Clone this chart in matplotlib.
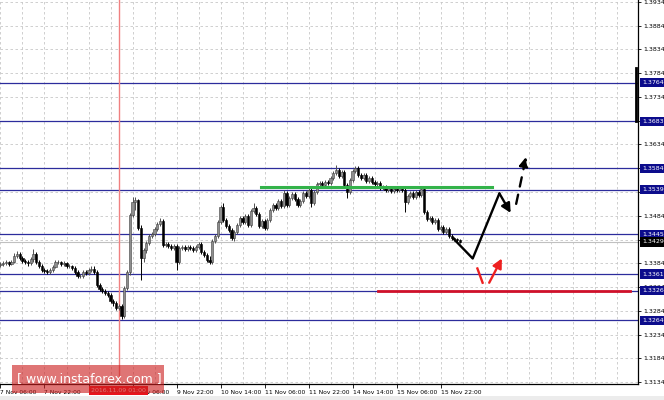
import numpy as np
import matplotlib
matplotlib.use('Agg')
import matplotlib.pyplot as plt
import matplotlib.transforms as mtransforms
from matplotlib.patches import Rectangle

# H1 candles, prices written as the last 4 digits of 1.xxxx
first_open = 3380
closes = [3382, 3384, 3386, 3382, 3386, 3399, 3403, 3395, 3389, 3386,
          3384, 3393, 3403, 3386, 3378, 3370, 3367, 3365, 3370, 3376,
          3386, 3386, 3382, 3384, 3378, 3378, 3374, 3365, 3357, 3357,
          3365, 3363, 3370, 3372, 3365, 3338, 3330, 3325, 3321, 3317,
          3304, 3300, 3290, 3294, 3273, 3332, 3365, 3486, 3513, 3517,
          3458, 3395, 3412, 3426, 3441, 3446, 3456, 3467, 3473, 3422,
          3424, 3420, 3416, 3420, 3386, 3416, 3418, 3414, 3418, 3416,
          3412, 3418, 3424, 3407, 3401, 3391, 3386, 3431, 3441, 3471,
          3502, 3475, 3462, 3454, 3437, 3450, 3465, 3479, 3471, 3483,
          3465, 3494, 3500, 3488, 3462, 3473, 3458, 3475, 3496, 3507,
          3500, 3515, 3504, 3532, 3507, 3521, 3530, 3519, 3507, 3515,
          3532, 3526, 3538, 3511, 3534, 3551, 3553, 3549, 3555, 3553,
          3563, 3574, 3580, 3568, 3576, 3549, 3534, 3559, 3578, 3585,
          3570, 3563, 3570, 3557, 3563, 3555, 3551, 3553, 3542, 3544,
          3538, 3542, 3536, 3540, 3538, 3542, 3538, 3513, 3526, 3532,
          3523, 3534, 3528, 3540, 3492, 3477, 3479, 3471, 3475, 3456,
          3460, 3450, 3456, 3441, 3437, 3435, 3433, 3429]
highs = [3386, 3389, 3391, 3389, 3391, 3405, 3410, 3407, 3399, 3393,
         3391, 3397, 3414, 3407, 3391, 3382, 3374, 3372, 3374, 3380,
         3391, 3391, 3389, 3389, 3386, 3382, 3380, 3378, 3370, 3361,
         3370, 3370, 3374, 3378, 3378, 3370, 3342, 3334, 3330, 3325,
         3321, 3309, 3304, 3298, 3298, 3336, 3370, 3490, 3523, 3523,
         3519, 3465, 3416, 3431, 3446, 3450, 3460, 3471, 3479, 3477,
         3429, 3429, 3424, 3424, 3424, 3420, 3422, 3422, 3422, 3422,
         3420, 3422, 3429, 3429, 3412, 3405, 3399, 3435, 3446, 3475,
         3507, 3511, 3479, 3467, 3458, 3454, 3469, 3483, 3483, 3488,
         3488, 3498, 3511, 3504, 3492, 3477, 3477, 3479, 3500, 3511,
         3511, 3519, 3519, 3538, 3536, 3526, 3534, 3534, 3523, 3519,
         3536, 3536, 3542, 3542, 3538, 3555, 3557, 3557, 3559, 3559,
         3568, 3578, 3591, 3585, 3580, 3580, 3553, 3563, 3582, 3589,
         3589, 3574, 3574, 3574, 3568, 3568, 3559, 3557, 3557, 3549,
         3549, 3547, 3547, 3544, 3544, 3547, 3547, 3542, 3530, 3536,
         3536, 3538, 3538, 3547, 3544, 3496, 3483, 3483, 3479, 3479,
         3465, 3465, 3460, 3460, 3446, 3439, 3437, 3435]
lows = [3376, 3378, 3380, 3378, 3380, 3384, 3395, 3391, 3384, 3382,
        3378, 3380, 3386, 3382, 3374, 3365, 3363, 3361, 3361, 3365,
        3374, 3382, 3378, 3378, 3374, 3374, 3370, 3361, 3353, 3353,
        3353, 3359, 3359, 3365, 3361, 3334, 3325, 3321, 3317, 3313,
        3300, 3294, 3286, 3286, 3267, 3269, 3328, 3359, 3481, 3496,
        3454, 3349, 3386, 3405, 3422, 3437, 3441, 3452, 3462, 3418,
        3418, 3416, 3412, 3412, 3370, 3382, 3412, 3410, 3410, 3412,
        3407, 3407, 3414, 3403, 3397, 3386, 3382, 3382, 3426, 3437,
        3467, 3471, 3458, 3450, 3433, 3431, 3446, 3460, 3467, 3467,
        3460, 3460, 3490, 3483, 3458, 3458, 3454, 3454, 3471, 3492,
        3496, 3496, 3500, 3500, 3502, 3502, 3517, 3515, 3502, 3502,
        3511, 3521, 3521, 3502, 3507, 3530, 3547, 3544, 3544, 3549,
        3549, 3559, 3570, 3563, 3563, 3544, 3521, 3530, 3555, 3574,
        3566, 3559, 3559, 3553, 3553, 3551, 3547, 3547, 3538, 3538,
        3534, 3534, 3532, 3532, 3534, 3534, 3534, 3492, 3509, 3521,
        3519, 3519, 3523, 3523, 3488, 3473, 3473, 3467, 3467, 3452,
        3452, 3446, 3446, 3437, 3433, 3431, 3429, 3426]

levels = [1.3764, 1.3683, 1.3584, 1.3539, 1.3445, 1.3361, 1.3326, 1.3264]
last_price = 1.3429
time_labels = ['7 Nov 06:00', '7 Nov 22:00', '8 Nov 14:00', '9 Nov 06:00',
               '9 Nov 22:00', '10 Nov 14:00', '11 Nov 06:00', '11 Nov 22:00',
               '14 Nov 14:00', '15 Nov 06:00', '15 Nov 22:00']
time_bars = [0, 16, 32, 48, 64, 80, 96, 112, 128, 144, 160]
marker_bar = 43
marker_label = '2016.11.09 01:00'

# drawn forecast (bar index, price)
green_x = [94.7, 178.7]
green_y = [1.3544, 1.3544]
support_x = [137.3, 228.9]
support_y = [1.3326, 1.3326]
black_x = [164.5, 171.7, 181.4, 185.5]
black_y = [1.3437, 1.3394, 1.3531, 1.3490]
dash_x = [187.5, 191.1]
dash_y = [1.3509, 1.3608]
red_dash_x = [173.4, 175.3]
red_dash_y = [1.3373, 1.3343]
red_arrow_x = [177.7, 182.3]
red_arrow_y = [1.3343, 1.3394]
bar_mark_x = [230.9, 230.9]
bar_mark_y = [1.3683, 1.3794]

c = 1 + np.array(closes) / 10000
h = 1 + np.array(highs) / 10000
l = 1 + np.array(lows) / 10000
o = np.concatenate([[1 + first_open / 10000], c[:-1]])
x = np.arange(len(c))

fig = plt.figure(figsize=(6.64, 4.0), dpi=100)
ax = fig.add_axes([0, 16 / 400, 638 / 664, 384 / 400])
ax.set_xlim(-0.18, 231.8)
ax.set_ylim(1.31298, 1.39382)

fs = 4.5
yt = np.round(np.arange(1.3134, 1.3935, 0.005), 4)
for v in yt:
    ax.axhline(v, color='#c8c8c8', lw=0.6, ls=(0, (3, 3)), zorder=0)
for b in range(0, 232, 8):
    ax.axvline(b, color='#c8c8c8', lw=0.6, ls=(0, (3, 3)), zorder=0)

for v in levels:
    ax.axhline(v, color='#2c2c9c', lw=0.9, zorder=1)
ax.axhline(last_price, color='#c0c0c0', lw=0.8, zorder=1)
ax.axvline(marker_bar, color='#f08080', lw=1.0, zorder=1)

# candles
up = c >= o
ax.vlines(x[up], l[up], h[up], color='#505050', lw=0.7, zorder=2)
ax.vlines(x[~up], l[~up], h[~up], color='black', lw=0.7, zorder=2)
body_lo = np.minimum(o, c)
body_h = np.maximum(np.abs(c - o), 0.00005)
ax.bar(x[up], body_h[up], bottom=body_lo[up], width=0.75, color='#8e8e8e',
       edgecolor='#404040', linewidth=0.4, zorder=3)
ax.bar(x[~up], body_h[~up], bottom=body_lo[~up], width=0.75, color='black',
       edgecolor='black', linewidth=0.4, zorder=3)

# drawn levels and forecast arrows
ax.plot(green_x, green_y, color='#33b34a', lw=2.2, zorder=4)
ax.plot(support_x, support_y, color='#d0102a', lw=2.0, zorder=4)
ax.plot(bar_mark_x, bar_mark_y, color='black', lw=2.0, zorder=4)
ax.plot(black_x[:-1], black_y[:-1], color='black', lw=1.7, zorder=5,
        solid_capstyle='round', solid_joinstyle='round')
head = '-|>,head_length=0.55,head_width=0.28'
ax.annotate('', xy=(black_x[-1], black_y[-1]), xytext=(black_x[-2], black_y[-2]),
            arrowprops=dict(arrowstyle=head, color='black', lw=1.7,
                            shrinkA=0, shrinkB=0), zorder=5)
ax.annotate('', xy=(dash_x[1], dash_y[1]), xytext=(dash_x[0], dash_y[0]),
            arrowprops=dict(arrowstyle=head, color='black', lw=1.7, ls=(0, (4, 3.5)),
                            shrinkA=0, shrinkB=0), zorder=5)
ax.plot(red_dash_x, red_dash_y, color='#ee2020', lw=1.7, zorder=5)
ax.annotate('', xy=(red_arrow_x[1], red_arrow_y[1]), xytext=(red_arrow_x[0], red_arrow_y[0]),
            arrowprops=dict(arrowstyle=head, color='#ee2020', lw=1.7,
                            shrinkA=0, shrinkB=0), zorder=5)

# axes
for s in ['top', 'left']:
    ax.spines[s].set_visible(False)
ax.spines['right'].set_linewidth(0.9)
ax.spines['bottom'].set_linewidth(0.9)
ax.yaxis.tick_right()
ax.set_yticks(yt)
ax.set_yticklabels([f'{v:.4f}' for v in yt], fontsize=fs)
ax.tick_params(axis='y', length=2, width=0.6, pad=1.5)
ax.set_xticks(time_bars)
ax.set_xticklabels(time_labels, fontsize=4.3, ha='left')
ax.tick_params(axis='x', length=3, width=0.6, pad=1.5)

tr = mtransforms.blended_transform_factory(ax.transAxes, ax.transData)
for v in levels:
    ax.text(1.007, v, f'{v:.4f}', transform=tr, fontsize=fs, color='white',
            va='center', ha='left', clip_on=False, zorder=10,
            bbox=dict(boxstyle='square,pad=0.35', fc='#0c0c8c', ec='none'))
ax.text(1.007, last_price, f'{last_price:.4f}', transform=tr, fontsize=fs,
        color='white', va='center', ha='left', clip_on=False, zorder=10,
        bbox=dict(boxstyle='square,pad=0.35', fc='black', ec='none'))

trx = mtransforms.blended_transform_factory(ax.transData, fig.transFigure)
fig.text(marker_bar, 1 - 390.5 / 400, marker_label, transform=trx, fontsize=fs,
         color='white', ha='center', va='center', zorder=6,
         bbox=dict(boxstyle='square,pad=0.3', fc='#e8141c', ec='none'))

# watermark and bottom strip
fig.patches.append(Rectangle((0, 0), 1, 4 / 400, transform=fig.transFigure,
                             fc='#ececec', ec='none', zorder=0.5))
fig.patches.append(Rectangle((12 / 664, 1 - 393 / 400), 152 / 664, 28 / 400,
                             transform=fig.transFigure, fc='#cc2020', ec='none',
                             alpha=0.62, zorder=7))
fig.text(89 / 664, 1 - 379 / 400, '[ www.instaforex.com ]', fontsize=9,
         color='white', ha='center', va='center', zorder=8)

fig.savefig('out.png', dpi=100)
